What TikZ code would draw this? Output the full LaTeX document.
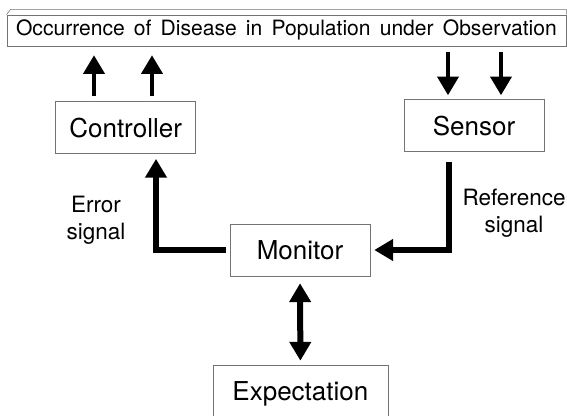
\documentclass[tikz,border=0pt]{standalone}
\usepackage{fontspec}
\setmainfont{TeX Gyre Heros}
\usetikzlibrary{arrows.meta}

\begin{document}
\begin{tikzpicture}[
    >={Triangle[width=0.52cm, length=0.47cm]},
    block/.style={
        draw=black!55, thin, rectangle, inner sep=0pt,
        minimum width=3.5cm, minimum height=1.3cm, font=\fontsize{18.5}{22}\selectfont
    },
    frame/.style={draw=black!55, thin},
    flow/.style={->, line width=0.15cm},
    signaltext/.style={align=center, font=\fontsize{16}{19.5}\selectfont}
]

\useasboundingbox (0,0) rectangle (14.175,-10.4);
\clip (0,0) rectangle (14.175,-10.4);

% Title
\node[block, minimum width=13.98cm, minimum height=0.775cm,
      font=\fontsize{15}{18}\selectfont] (Occurrence) at (7.16,-0.76)
    {\spaceskip=6.5pt\relax Occurrence of Disease in Population under Observation};
\draw[frame] (Occurrence.north west) -- ++(0.1,0.13) -| (Occurrence.north east);

% -------------------------
% Blocks
% -------------------------

% 1. Controller (Left)
\node[block] (Controller) at (3.14,-3.19) {Controller};

% 2. Sensor (Right)
\node[block] (Sensor) at (11.85,-3.14) {Sensor};

% 3. Monitor (Center)
\node[block] (Monitor) at (7.5,-6.25) {Monitor};

% 4. Expectation (Bottom)
\node[block, minimum width=4.38cm, minimum height=1.45cm] (Expectation) at (7.51,-9.85) {Expectation};

% -------------------------
% Arrows & Signal Labels
% -------------------------

% Controller -> Occurrence
\draw[flow, line width=0.12cm, shorten <=0.125cm, shorten >=0.225cm]
    ([xshift=-0.79cm]Controller.north) -- ([xshift=-0.79cm]Controller.north |- Occurrence.south);
\draw[flow, line width=0.12cm, shorten <=0.125cm, shorten >=0.225cm]
    ([xshift=0.66cm]Controller.north) -- ([xshift=0.66cm]Controller.north |- Occurrence.south);

% Occurrence -> Sensor
\draw[flow, line width=0.12cm, shorten <=0.15cm, shorten >=0.1cm]
    ([xshift=-0.65cm]Sensor.north |- Occurrence.south) -- ([xshift=-0.65cm]Sensor.north);
\draw[flow, line width=0.12cm, shorten <=0.15cm, shorten >=0.1cm]
    ([xshift=0.675cm]Sensor.north |- Occurrence.south) -- ([xshift=0.675cm]Sensor.north);

% Monitor -> Controller (Error signal)
\draw[flow, shorten <=0.1cm, shorten >=0.125cm]
    (Monitor.west) -| ([xshift=0.76cm]Controller.south);
\node[signaltext] (Error) at (2.4,-5.5) {Error\\signal};

% Sensor -> Monitor (Reference signal)
\draw[flow, shorten <=0.25cm, shorten >=0.1cm]
    ([xshift=-0.625cm]Sensor.south) |- (Monitor.east);
\node[signaltext] (Reference) at (12.85,-5.33) {Reference\\signal};

% Monitor <-> Expectation
\draw[flow, <->, shorten <=0.175cm, shorten >=0.1cm] (Monitor.south) -- (Expectation.north);

\end{tikzpicture}
\end{document}
